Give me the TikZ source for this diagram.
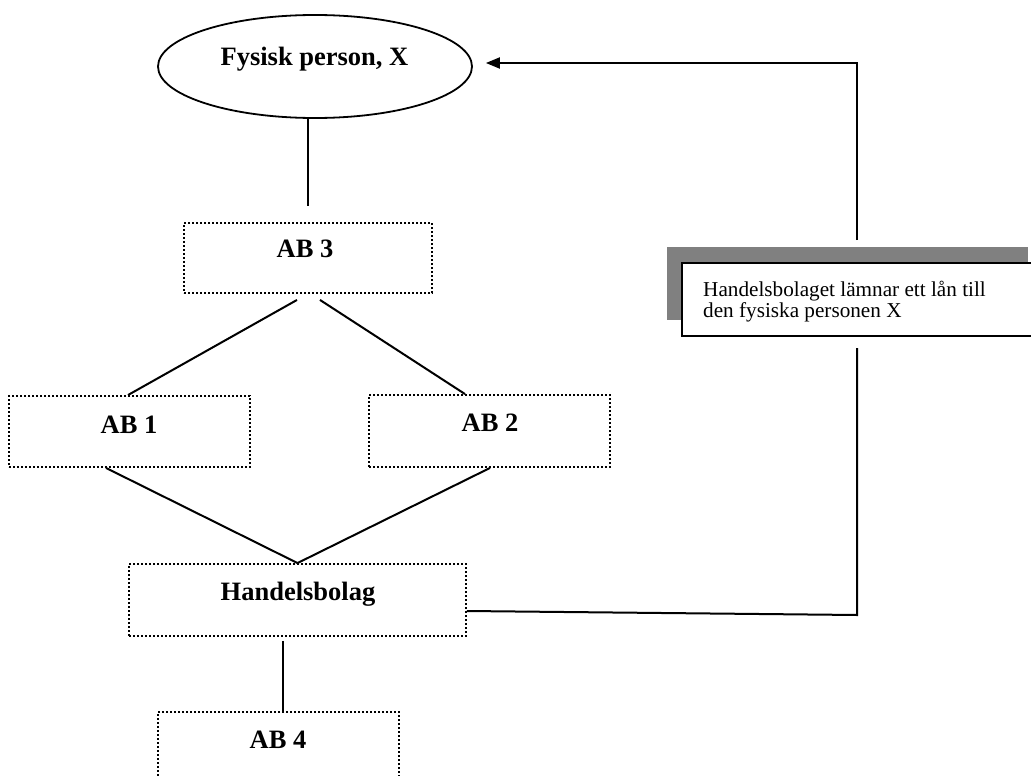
\documentclass[tikz,border=0pt]{standalone}
\usepackage{fontspec}
\setmainfont{Liberation Serif}
\usetikzlibrary{shapes.geometric,arrows.meta,shadows,calc}
\begin{document}
\begin{tikzpicture}[x=1pt,y=-1pt,
  box/.style={draw, line width=1.9pt, dash pattern=on 1.9pt off 2.1pt, inner sep=0},
  lbl/.style={font=\fontsize{26.5}{30}\selectfont\bfseries, inner sep=0, anchor=base},
  conn/.style={line width=2pt},
  notebox/.style={draw, fill=white, line width=2pt, inner sep=0,
    general shadow={fill=black!50, shadow xshift=-15pt, shadow yshift=16pt}},
  notetext/.style={font=\fontsize{21.2}{20.5}\selectfont, align=left, inner sep=0, anchor=north west}]
\clip (0,0) rectangle (1031,776);
\fill[white] (0,0) rectangle (1031,776);

% nodes
\node[ellipse, draw, line width=1.8pt, minimum width=314pt, minimum height=103pt, inner sep=0] (ell) at (315,66.5) {};
\node[lbl] (ellt) at (314.5,66) {Fysisk person, X};

\node[box, minimum width=248pt, minimum height=70pt] (ab3) at (308,258) {};
\node[lbl] (ab3t) at (305,257) {AB 3};

\node[box, minimum width=241pt, minimum height=71pt] (ab1) at (129.5,431.5) {};
\node[lbl] (ab1t) at (129,433) {AB 1};

\node[box, minimum width=241pt, minimum height=72pt] (ab2) at (489.5,431) {};
\node[lbl] (ab2t) at (490,431) {AB 2};

\node[box, minimum width=337pt, minimum height=72pt] (hb) at (297.5,600) {};
\node[lbl] (hbt) at (298,600) {Handelsbolag};

\node[box, minimum width=241pt, minimum height=72pt] (ab4) at (278.5,748) {};
\node[lbl] (ab4t) at (278,748) {AB 4};

\node[notebox, minimum width=361pt, minimum height=73pt] (note) at (862.5,299.5) {};
\node[notetext] (notet) at (703,281) {Handelsbolaget lämnar ett lån till\\den fysiska personen X};

% coordinates of the return path
\coordinate (c1) at (857,615);
\coordinate (c2) at (857,348);
\coordinate (c3) at (857,240);
\coordinate (c4) at (857,63);

% connectors
\draw[conn] ([xshift=-7pt]ell.south) -- ([yshift=16pt]ab3.north);
\draw[conn] ([xshift=-11pt,yshift=-6pt]ab3.south) -- ([xshift=-1.5pt]ab1.north);
\draw[conn] ([xshift=12pt,yshift=-6pt]ab3.south) -- ([xshift=-24.5pt]ab2.north);
\draw[conn] ([xshift=-23.5pt]ab1.south) -- (hb.north);
\draw[conn] ([xshift=0.5pt]ab2.south) -- (hb.north);
\draw[conn] ([xshift=-14.5pt,yshift=-4pt]hb.south) -- ([xshift=4.5pt]ab4.north);
\draw[conn] ([yshift=-11pt]hb.east) -- (c1) -- (c2);
\draw[conn, -{Triangle[length=14pt,width=11pt]}] (c3) -- (c4) -- ([xshift=13pt,yshift=3.5pt]ell.east);
\end{tikzpicture}
\end{document}
